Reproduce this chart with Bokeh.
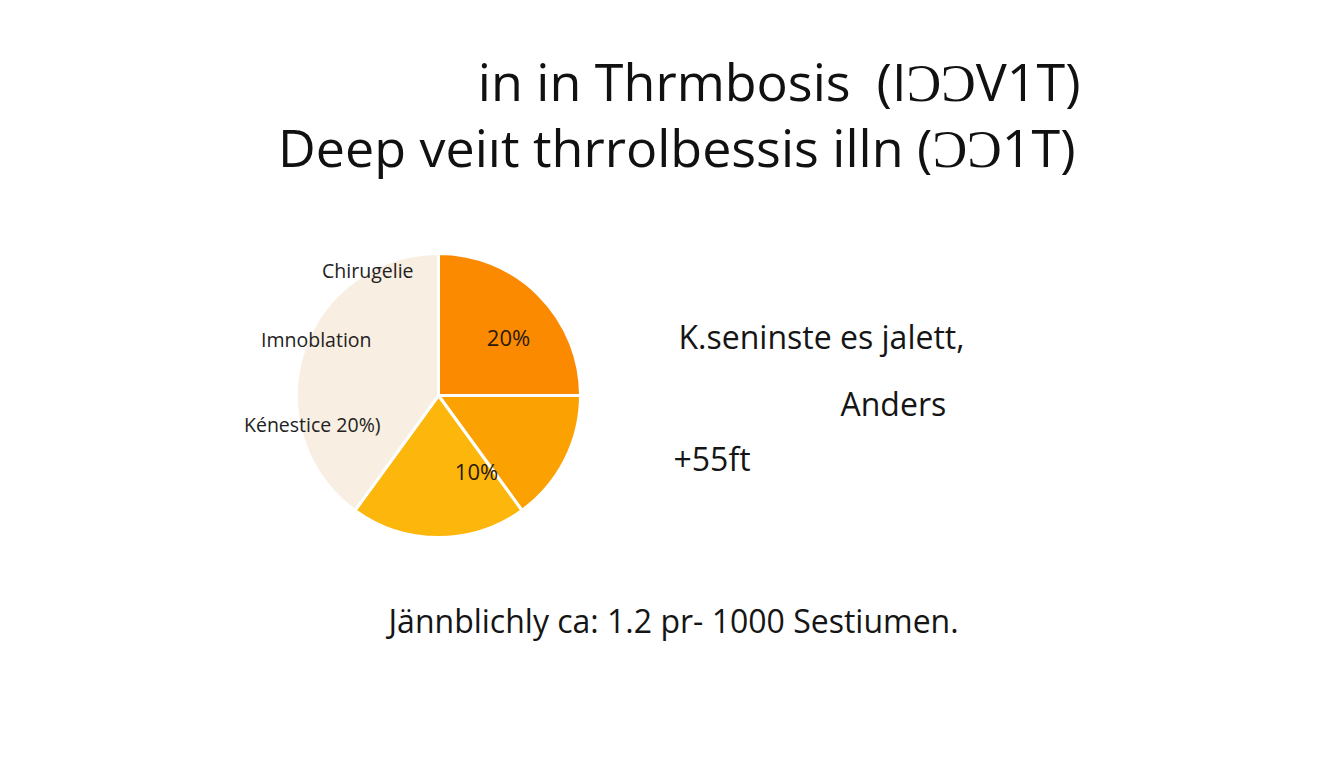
from bokeh.plotting import figure
from bokeh.models import Range1d, ColumnDataSource
from bokeh.core.properties import value
from bokeh.embed import file_html
from bokeh.resources import INLINE
import numpy as np

title_lines = ["in in Thrmbosis\u2002(IƆƆV1T)", "Deep veiıt thrrolbessis illn (ƆƆ1T)"]
slice_names = ["A", "B", "C", "D"]
slice_values = [25, 15, 20, 40]
slice_colors = ["#FB8A00", "#FCA102", "#FDB60C", "#F8EEE1"]
pct_labels = ["20%", "10%"]
side_labels = ["Chirugelie", "Imnoblation", "Kénestice 20%)"]
right_texts = ["K.seninste es jalett,", "Anders", "+55ft"]
footer = "Jännblichly ca: 1.2 pr- 1000 Sestiumen."

W, H = 1328, 752
p = figure(width=W, height=H, x_range=Range1d(0, W), y_range=Range1d(0, H),
           output_backend="svg", toolbar_location=None, min_border=0)
p.axis.visible = False
p.grid.visible = False
p.outline_line_color = None
FONT = value("Open Sans")

def sx(X):
    return X
def sy(Y):
    return 752 - Y

# pie
vals = np.array(slice_values, dtype=float)
frac = vals / vals.sum()
ends = np.pi / 2 - np.cumsum(frac) * 2 * np.pi
starts = np.concatenate([[np.pi / 2], ends[:-1]])
src = ColumnDataSource(dict(start=ends, end=starts, color=slice_colors))
cx, cy, r = sx(438), sy(395), 142
p.wedge(x=cx, y=cy, radius=r, start_angle="start", end_angle="end",
        fill_color="color", line_color="white", line_width=3, source=src)

# titles
p.text(x=[sx(1080), sx(1075)], y=[sy(80), sy(146)], text=title_lines, text_font=FONT,
       text_font_size="52px", text_align="right", text_baseline="middle", text_color="#111111")

# pie labels
p.text(x=[sx(508), sx(476)], y=[sy(336), sy(470)], text=pct_labels, text_font=FONT,
       text_font_size="22px", text_align="center", text_baseline="middle", text_color="#2a1a0a")
p.text(x=[sx(413), sx(371), sx(380)], y=[sy(270), sy(339), sy(424)], text=side_labels,
       text_font=FONT, text_font_size="19.5px", text_align="right", text_baseline="middle",
       text_color="#222222")

# right texts
p.text(x=[sx(678), sx(840), sx(673)], y=[sy(336), sy(403), sy(458)], text=right_texts,
       text_font=FONT, text_font_size="32px", text_align="left", text_baseline="middle",
       text_color="#151515")

# footer
p.text(x=[sx(388)], y=[sy(620)], text=[footer], text_font=FONT, text_font_size="32px",
       text_align="left", text_baseline="middle", text_color="#151515")

open("out.html", "w").write(file_html(p, INLINE))
